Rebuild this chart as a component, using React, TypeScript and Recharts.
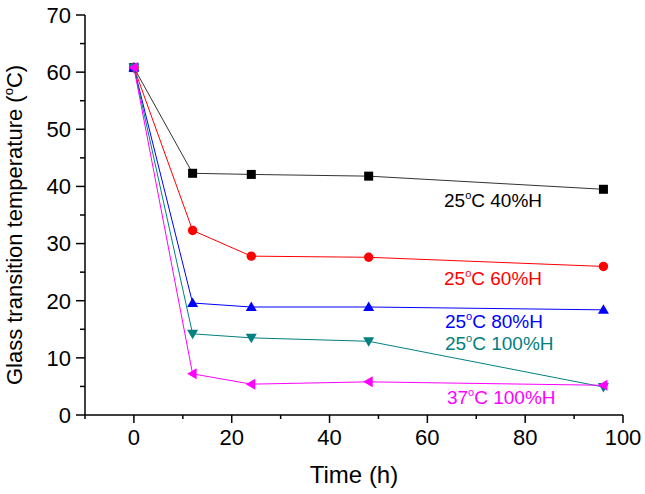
import React from 'react';
import { LineChart, Line, XAxis, YAxis, ReferenceDot } from 'recharts';

// time points (h)
const hours = [0, 12, 24, 48, 96];

// glass transition temperature (°C) per storage condition
const rh40 = [60.8, 42.3, 42.1, 41.8, 39.5];
const rh60 = [60.8, 32.3, 27.8, 27.6, 26.0];
const rh80 = [60.8, 19.6, 18.9, 18.9, 18.4];
const rh100 = [60.8, 14.2, 13.5, 12.9, 4.9];
const rh100hot = [60.8, 7.2, 5.4, 5.8, 5.2];

const xTicks = [-10, 0, 10, 20, 30, 40, 50, 60, 70, 80, 90, 100];
const yTicks = [0, 5, 10, 15, 20, 25, 30, 35, 40, 45, 50, 55, 60, 65, 70];

// annotation text: [temp, humidity, x, y, colour]
const notes: [string, string, number, number, string][] = [
  ['25', '40%H', 63.4, 36.4, '#000000'],
  ['25', '60%H', 63.4, 22.7, '#ff0000'],
  ['25', '80%H', 63.6, 15.2, '#0000ff'],
  ['25', '100%H', 63.6, 11.4, '#008080'],
  ['37', '100%H', 64.0, 1.9, '#ff00ff'],
];

const toRows = (vals: number[]) => hours.map((t, i) => ({ t, v: vals[i] }));

const FONT = '"Liberation Sans", Arial, sans-serif';

const Square = (p: any) => <rect x={p.cx - 4.5} y={p.cy - 4.5} width={9} height={9} fill="#000" />;
const Circle = (p: any) => <circle cx={p.cx} cy={p.cy} r={4.7} fill="#ff0000" />;
const TriUp = (p: any) => (
  <polygon points={`${p.cx},${p.cy - 5.5} ${p.cx - 5.5},${p.cy + 4} ${p.cx + 5.5},${p.cy + 4}`} fill="#0000ff" />
);
const TriDown = (p: any) => (
  <polygon points={`${p.cx},${p.cy + 5.5} ${p.cx - 5.5},${p.cy - 4} ${p.cx + 5.5},${p.cy - 4}`} fill="#008080" />
);
const TriLeft = (p: any) => (
  <polygon points={`${p.cx - 5.5},${p.cy} ${p.cx + 4},${p.cy - 5.5} ${p.cx + 4},${p.cy + 5.5}`} fill="#ff00ff" />
);

const XTick = (p: any) => {
  const v = p.payload.value;
  const major = v % 20 === 0;
  return (
    <g>
      <line x1={p.x} x2={p.x} y1={p.y} y2={p.y + (major ? 8 : 4)} stroke="#000" strokeWidth={1.5} />
      {major && (
        <text x={p.x} y={p.y + 30} textAnchor="middle" fontSize={22} fontFamily={FONT} fill="#000">
          {v}
        </text>
      )}
    </g>
  );
};

const YTick = (p: any) => {
  const v = p.payload.value;
  const major = v % 10 === 0;
  return (
    <g>
      <line x1={p.x} x2={p.x - (major ? 9 : 5)} y1={p.y} y2={p.y} stroke="#000" strokeWidth={1.5} />
      {major && (
        <text x={p.x - 14} y={p.y} dy="0.36em" textAnchor="end" fontSize={22} fontFamily={FONT} fill="#000">
          {v}
        </text>
      )}
    </g>
  );
};

const YTitle = (p: any) => {
  const vb = p.viewBox;
  const cx = vb.x + 22;
  const cy = vb.y + vb.height / 2 + 10;
  return (
    <text x={cx} y={cy} transform={`rotate(-90 ${cx} ${cy})`} textAnchor="middle" fontSize={22} fontFamily={FONT} fill="#000">
      Glass transition temperature (
      <tspan fontSize={13} dy={-9}>o</tspan>
      <tspan dy={9}>C)</tspan>
    </text>
  );
};

const XTitle = (p: any) => {
  const vb = p.viewBox;
  return (
    <text x={vb.x + vb.width / 2} y={vb.y + 68} textAnchor="middle" fontSize={24} fontFamily={FONT} fill="#000">
      Time (h)
    </text>
  );
};

const noteShape = (temp: string, rh: string, colour: string) => (p: any) => (
  <text x={p.cx} y={p.cy} fontSize={19} fontFamily={FONT} fill={colour}>
    {temp}
    <tspan fontSize={11} dy={-8}>o</tspan>
    <tspan dy={8}>C {rh}</tspan>
  </text>
);

export default function App() {
  return (
    <div style={{ position: 'absolute', left: 0, top: 0, background: '#fff' }}>
      <LineChart width={645} height={494} margin={{ top: 15, right: 22, bottom: 0, left: 0 }}>
        <XAxis
          dataKey="t"
          type="number"
          domain={[-10, 100]}
          ticks={xTicks}
          interval={0}
          height={79}
          tickSize={0}
          tickMargin={0}
          tickLine={false}
          tick={<XTick />}
          axisLine={{ stroke: '#000', strokeWidth: 1.5 }}
          allowDataOverflow
          label={<XTitle />}
        />
        <XAxis xAxisId="top" orientation="top" type="number" domain={[-10, 100]} height={0} tick={false} tickLine={false} axisLine={{ stroke: '#000', strokeWidth: 1.5 }} />
        <YAxis
          type="number"
          domain={[0, 70]}
          ticks={yTicks}
          interval={0}
          width={85}
          tickSize={0}
          tickMargin={0}
          tickLine={false}
          tick={<YTick />}
          axisLine={{ stroke: '#000', strokeWidth: 1.5 }}
          allowDataOverflow
          label={<YTitle />}
        />
        <YAxis yAxisId="right" orientation="right" type="number" domain={[0, 70]} width={0} tick={false} tickLine={false} axisLine={{ stroke: '#000', strokeWidth: 1.5 }} />

        <Line data={toRows(rh40)} dataKey="v" stroke="#333" strokeWidth={1} dot={<Square />} isAnimationActive={false} />
        <Line data={toRows(rh60)} dataKey="v" stroke="#ff0000" strokeWidth={1} dot={<Circle />} isAnimationActive={false} />
        <Line data={toRows(rh80)} dataKey="v" stroke="#0000ff" strokeWidth={1} dot={<TriUp />} isAnimationActive={false} />
        <Line data={toRows(rh100)} dataKey="v" stroke="#008080" strokeWidth={1} dot={<TriDown />} isAnimationActive={false} />
        <Line data={toRows(rh100hot)} dataKey="v" stroke="#ff00ff" strokeWidth={1} dot={<TriLeft />} isAnimationActive={false} />

        {notes.map(([temp, rh, x, y, colour]) => (
          <ReferenceDot key={temp + rh} x={x} y={y} r={0} shape={noteShape(temp, rh, colour)} />
        ))}
      </LineChart>
    </div>
  );
}
